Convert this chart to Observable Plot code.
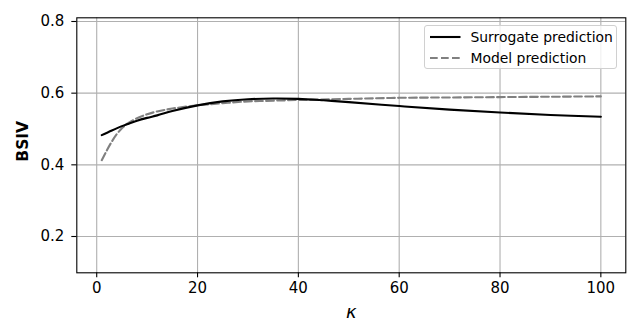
<!DOCTYPE html>
<html>
<head>
<meta charset="utf-8">
<script src="https://cdn.jsdelivr.net/npm/d3@7"></script>
<script src="https://cdn.jsdelivr.net/npm/@observablehq/plot@0.6"></script>
<style>
  html, body { margin: 0; padding: 0; background: #fff; }
  #wrap { position: relative; width: 640px; height: 336px; font-family: "DejaVu Sans", sans-serif; }
  #legend { position: absolute; left: 424px; top: 25px; width: 193px; height: 44px;
    border: 1px solid #d0d0d0; border-radius: 3px; background: rgba(255,255,255,0.8); box-sizing: border-box; }
  .item { position: absolute; left: 0; height: 20px; font-size: 13.9px; color: #000; white-space: nowrap; }
  .item svg { position: absolute; left: 5px; top: 0; }
  .item span { position: absolute; left: 45.5px; top: 1px; line-height: 18px; }
</style>
</head>
<body>
<div id="wrap"></div>
<script>
const kappaS = [1,3,5,6,8,10,12,15,20,25,30,35,40,45,50,60,70,80,90,100];
const surrogate = [0.483,0.496,0.508,0.513,0.523,0.531,0.538,0.550,0.566,0.577,0.583,0.585,0.584,0.580,0.575,0.564,0.554,0.546,0.539,0.534];
const kappaM = [1,2,3,4,5,6,8,10,12,15,20,25,30,35,40,50,60,70,80,90,100];
const model = [0.413,0.440,0.465,0.486,0.502,0.514,0.530,0.541,0.549,0.557,0.566,0.572,0.577,0.579,0.581,0.584,0.587,0.588,0.589,0.590,0.591];
const xTicks = [0,20,40,60,80,100];
const yTicks = [0.2,0.4,0.6,0.8];
const seriesNames = ["Surrogate prediction", "Model prediction"];
const xLabel = "κ";
const yLabel = "BSIV";

const sData = kappaS.map((k,i) => ({k, v: surrogate[i]}));
const mData = kappaM.map((k,i) => ({k, v: model[i]}));

const chart = Plot.plot({
  width: 640, height: 336,
  marginLeft: 76.3, marginRight: 14.7, marginTop: 17.3, marginBottom: 63.7,
  style: {fontFamily: "DejaVu Sans", fontSize: "15px", background: "#fff", color: "#000"},
  x: {domain: [-3.95, 104.95]},
  y: {domain: [0.0987, 0.8103]},
  marks: [
    Plot.ruleX(xTicks, {stroke: "#b0b0b0", strokeWidth: 1.1}),
    Plot.ruleY(yTicks, {stroke: "#b0b0b0", strokeWidth: 1.1}),
    Plot.line(mData, {x: "k", y: "v", stroke: "#808080", strokeWidth: 2.1, strokeDasharray: "7.7,3.3", curve: "catmull-rom"}),
    Plot.line(sData, {x: "k", y: "v", stroke: "#000", strokeWidth: 2.1, curve: "catmull-rom"}),
    Plot.frame({stroke: "#000", strokeWidth: 1.1}),
    Plot.axisX({ticks: xTicks, tickSize: 5, tickPadding: 5, label: null, stroke: "#000", strokeWidth: 1.1, tickFormat: d => String(d), fontSize: 15}),
    Plot.axisY({ticks: yTicks, tickSize: 5, tickPadding: 7.5, label: null, stroke: "#000", strokeWidth: 1.1, tickFormat: d => d.toFixed(1), fontSize: 15}),
    Plot.text([yLabel], {text: d => d, frameAnchor: "left", dx: -53.5, dy: -4, rotate: -90, fontWeight: "bold", fontSize: 15.5, textAnchor: "middle", lineAnchor: "middle", fill: "#000"}),
    Plot.text([xLabel], {text: d => d, frameAnchor: "bottom", dy: 39, fontStyle: "italic", fontSize: 18, textAnchor: "middle", lineAnchor: "middle", fill: "#000"})
  ]
});
const wrap = document.getElementById("wrap");
wrap.appendChild(chart);

const legend = document.createElement("div");
legend.id = "legend";
const styles = [{stroke: "#000", dash: null}, {stroke: "#808080", dash: "7.7,3.3"}];
seriesNames.forEach((name, i) => {
  const item = document.createElement("div");
  item.className = "item";
  item.style.top = (i === 0 ? 0.7 : 22.3) + "px";
  const dashAttr = styles[i].dash ? `stroke-dasharray="${styles[i].dash}"` : "";
  item.innerHTML = `<svg width="32" height="20"><line x1="0" x2="30.5" y1="10" y2="10" stroke="${styles[i].stroke}" stroke-width="2.1" ${dashAttr}/></svg><span>${name}</span>`;
  legend.appendChild(item);
});
wrap.appendChild(legend);
</script>
</body>
</html>
